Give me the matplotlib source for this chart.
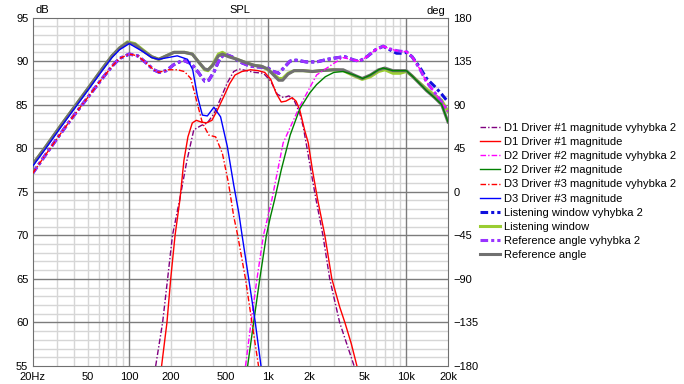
import matplotlib
matplotlib.use('Agg')
import matplotlib.pyplot as plt

plt.rcParams['font.family'] = ['Liberation Sans', 'DejaVu Sans']

# ---- data (frequency in Hz, level in dB) ----
ref_f = [20, 25, 32, 40, 50, 63, 75, 85, 97, 110, 125, 145, 163, 185, 210, 250, 285,
         320, 350, 370, 400, 440, 470, 520, 600, 700, 800, 900, 1000, 1100, 1200, 1280,
         1400, 1550, 1800, 2100, 2400, 3000, 3500, 4200, 4800, 5500, 6300, 7000, 8000,
         9000, 10000, 11000, 12500, 14000, 16000, 18000, 20000]
ref_db = [78.1, 80.2, 82.6, 84.7, 86.8, 89.0, 90.6, 91.5, 92.1, 91.9, 91.2, 90.5, 90.2,
          90.6, 91.0, 91.0, 90.8, 89.8, 89.1, 89.0, 89.5, 90.6, 90.8, 90.5, 90.2, 89.8,
          89.5, 89.4, 89.1, 88.4, 87.8, 87.8, 88.5, 88.9, 88.9, 88.8, 88.9, 89.0, 89.0,
          88.4, 88.0, 88.4, 89.0, 89.2, 88.9, 88.9, 88.9, 88.3, 87.4, 86.6, 85.8, 85.0,
          83.0]
lw_db = [78.1, 80.2, 82.6, 84.7, 86.8, 89.0, 90.6, 91.5, 92.2, 92.0, 91.3, 90.5, 90.2,
         90.6, 91.0, 91.0, 90.8, 89.8, 89.0, 88.9, 89.6, 90.8, 91.0, 90.6, 90.2, 89.8,
         89.5, 89.4, 89.0, 88.5, 88.0, 88.0, 88.6, 88.9, 88.9, 88.8, 88.9, 89.0, 88.9,
         88.3, 87.9, 88.2, 88.8, 89.0, 88.6, 88.6, 88.8, 88.3, 87.5, 86.8, 86.1, 85.5,
         84.2]

v2_f = [20, 25, 32, 40, 50, 63, 75, 85, 100, 115, 130, 150, 165, 185, 210, 245, 280,
        315, 350, 375, 410, 450, 490, 550, 650, 750, 900, 1000, 1100, 1200, 1300, 1450,
        1600, 1900, 2250, 2700, 3200, 3600, 4200, 4600, 5200, 6000, 6800, 7600, 8500,
        9400, 10000, 11000, 12500, 14000, 16000, 18000, 20000]
lw_v2_db = [77.1, 79.3, 81.7, 83.8, 85.8, 87.9, 89.4, 90.3, 90.8, 90.6, 89.9, 89.0,
            88.7, 88.9, 89.6, 90.1, 89.7, 88.7, 87.7, 87.8, 88.8, 90.3, 90.8, 90.5,
            89.8, 89.4, 89.3, 89.2, 88.8, 88.6, 89.2, 90.0, 90.1, 89.9, 89.9, 90.2,
            90.4, 90.5, 90.1, 90.0, 90.5, 91.3, 91.7, 91.3, 90.9, 90.9, 91.0, 90.5,
            89.3, 88.0, 87.1, 86.2, 85.3]
ref_v2_db = [77.1, 79.3, 81.7, 83.8, 85.8, 87.9, 89.4, 90.3, 90.8, 90.6, 89.9, 89.0,
             88.7, 88.9, 89.6, 90.1, 89.7, 88.7, 87.7, 87.8, 88.8, 90.3, 90.8, 90.5,
             89.8, 89.4, 89.3, 89.2, 88.8, 88.6, 89.2, 90.0, 90.1, 89.9, 89.9, 90.2,
             90.4, 90.5, 90.1, 90.0, 90.5, 91.3, 91.7, 91.4, 91.2, 91.1, 91.1, 90.5,
             89.1, 87.6, 86.4, 85.3, 84.2]

d1_f = [171, 187, 199, 214, 232, 248, 265, 285, 305, 330, 360, 395, 430, 480, 530, 580,
        650, 750, 850, 950, 1050, 1150, 1250, 1350, 1500, 1600, 1700, 1850, 1960, 2100,
        2290, 2580, 2900, 3300, 3600, 4000, 4400]
d1_db = [55, 60, 65, 70, 74.1, 78.6, 81.3, 82.9, 83.2, 83.0, 82.9, 83.2, 84.3, 85.9,
         87.4, 88.4, 88.8, 89.0, 88.9, 88.7, 87.9, 86.3, 85.3, 85.4, 85.8, 85.4, 84.4,
         82.0, 80.6, 77.5, 74.1, 70, 65, 61.8, 60, 57.6, 55]

d1_v2_f = [155, 174, 189, 205, 231, 260, 292, 330, 366, 410, 456, 510, 567, 620, 700,
           800, 930, 1050, 1170, 1300, 1420, 1550, 1700, 1800, 1910, 2100, 2230, 2500,
           2800, 3300, 4200]
d1_v2_db = [55, 60, 65, 70, 74.1, 78.5, 82.1, 82.6, 82.9, 84.0, 85.7, 87.5, 88.8, 89.1,
            88.9, 88.7, 88.6, 87.7, 86.2, 85.8, 86.0, 85.5, 84.0, 82.5, 80.2, 76.4,
            74.1, 70, 65, 60, 55]

d2_f = [715, 790, 875, 977, 1040, 1120, 1250, 1450, 1700, 2000, 2250, 2600, 3000, 3500,
        4200, 4850, 5500, 6300, 6800, 8000, 10000, 11000, 12500, 14000, 16000, 18000,
        20000]
d2_db = [55, 60, 65, 70, 72, 74.1, 77.5, 81.5, 84.5, 86.3, 87.3, 88.2, 88.7, 88.8, 88.4,
         88.0, 88.4, 89.0, 89.2, 88.9, 88.9, 88.3, 87.4, 86.6, 85.8, 85.0, 83.0]

d2_v2_f = [690, 757, 835, 930, 1070, 1290, 1700, 2250, 2970, 3500, 4200, 4600, 5200,
           6000, 6800, 7600, 8500, 9400, 10000, 11000, 12500, 14000, 16000, 18000, 20000]
d2_v2_db = [55, 60, 65, 70, 74.1, 80.6, 84.8, 88.4, 89.7, 90.4, 90.1, 90.0, 90.5, 91.3,
            91.7, 91.4, 91.2, 91.1, 91.1, 90.5, 89.1, 87.6, 86.4, 85.3, 84.2]

d3_f = [20, 25, 32, 40, 50, 63, 75, 85, 100, 125, 145, 163, 190, 222, 263, 287, 310,
        337, 366, 408, 456, 510, 567, 617, 652, 728, 812, 893]
d3_db = [77.9, 80.0, 82.4, 84.5, 86.6, 88.8, 90.4, 91.3, 92.0, 91.1, 90.4, 90.2, 90.4,
         90.6, 90.2, 89.0, 86.0, 83.8, 83.7, 84.7, 83.6, 80.2, 75.8, 72.6, 70, 65, 60, 55]

d3_v2_f = [20, 25, 32, 40, 50, 63, 75, 85, 100, 115, 130, 150, 163, 190, 222, 250, 278,
           310, 337, 375, 420, 470, 520, 567, 606, 690, 768, 857]
d3_v2_db = [77.1, 79.3, 81.7, 83.8, 85.8, 87.9, 89.4, 90.3, 90.8, 90.6, 89.9, 89.0, 88.7,
            89.0, 89.0, 88.8, 88.0, 85.1, 82.9, 81.5, 81.3, 79.4, 76.0, 72.2, 70, 65, 60,
            55]

xtick_vals = [20, 50, 100, 200, 500, 1000, 2000, 5000, 10000, 20000]
xtick_labels = ['20Hz', '50', '100', '200', '500', '1k', '2k', '5k', '10k', '20k']
ytick_vals = [55, 60, 65, 70, 75, 80, 85, 90, 95]
deg_vals = [-180, -135, -90, -45, 0, 45, 90, 135, 180]

# ---- figure ----
fig = plt.figure(figsize=(6.84, 3.84), dpi=100)
ax = fig.add_axes([32.5 / 684, 18 / 384, 415.5 / 684, 348.5 / 384])
ax.set_xscale('log')
ax.set_xlim(20, 20000)
ax.set_ylim(55, 95)

# grid
for dec in [10, 100, 1000, 10000]:
    for m in range(2, 10):
        f = dec * m
        if 20 < f < 20000:
            ax.axvline(f, color='#d6d6d6', lw=1, zorder=0)
for f in [100, 1000, 10000]:
    ax.axvline(f, color='#7c7c7c', lw=1, zorder=0.5)
for v in range(56, 95):
    if v % 5:
        ax.axhline(v, color='#d6d6d6', lw=1, zorder=0)
    else:
        ax.axhline(v, color='#7c7c7c', lw=1, zorder=0.5)

dd = (0, (4, 1.5, 1, 1.5))
dd_thick = (0, (2.5, 1, 1, 1))

h = []
h += ax.plot(d1_v2_f, d1_v2_db, color='#800080', lw=1, ls=dd, zorder=4,
             label='D1 Driver #1 magnitude vyhybka 2')
h += ax.plot(d1_f, d1_db, color='#ff0000', lw=1, zorder=4,
             label='D1 Driver #1 magnitude')
h += ax.plot(d2_v2_f, d2_v2_db, color='#ff00ff', lw=1, ls=dd, zorder=4,
             label='D2 Driver #2 magnitude vyhybka 2')
h += ax.plot(d2_f, d2_db, color='#008000', lw=1, zorder=4,
             label='D2 Driver #2 magnitude')
h += ax.plot(d3_v2_f, d3_v2_db, color='#ff0000', lw=1, ls=dd, zorder=4,
             label='D3 Driver #3 magnitude vyhybka 2')
h += ax.plot(d3_f, d3_db, color='#0000ff', lw=1, zorder=4,
             label='D3 Driver #3 magnitude')
h += ax.plot(v2_f, lw_v2_db, color='#1010dd', lw=2.2, ls=dd_thick, zorder=2,
             label='Listening window vyhybka 2')
h += ax.plot(ref_f, lw_db, color='#9acd32', lw=2.2, zorder=2,
             label='Listening window')
h += ax.plot(v2_f, ref_v2_db, color='#9933ff', lw=2.2, ls=dd_thick, zorder=2.5,
             label='Reference angle vyhybka 2')
h += ax.plot(ref_f, ref_db, color='#707070', lw=2.2, zorder=2.5,
             label='Reference angle')

ax.set_xticks(xtick_vals)
ax.set_xticklabels(xtick_labels)
ax.xaxis.set_minor_locator(matplotlib.ticker.NullLocator())
ax.set_yticks(ytick_vals)
ax.tick_params(length=0, labelsize=8, pad=3)
ax.tick_params(axis='x', pad=4)
for s in ax.spines.values():
    s.set_color('#707070')

ax2 = ax.twinx()
ax2.set_ylim(-180, 180)
ax2.set_yticks(deg_vals)
ax2.tick_params(length=0, labelsize=8, pad=4)
for s in ax2.spines.values():
    s.set_visible(False)

ax.set_title('SPL', fontsize=8, pad=3.5)
fig.text(35 / 684, 1 - 10 / 384, 'dB', fontsize=8, va='center')
fig.text(445 / 684, 1 - 11 / 384, 'deg', fontsize=8, va='center', ha='right')

fig.legend(handles=h, loc='upper left', bbox_to_anchor=(480 / 684, 1 - 123 / 384),
           frameon=False, fontsize=8, handlelength=1.8, handletextpad=0.4,
           labelspacing=0.37, borderpad=0, borderaxespad=0)

fig.savefig('out.png', dpi=100)
